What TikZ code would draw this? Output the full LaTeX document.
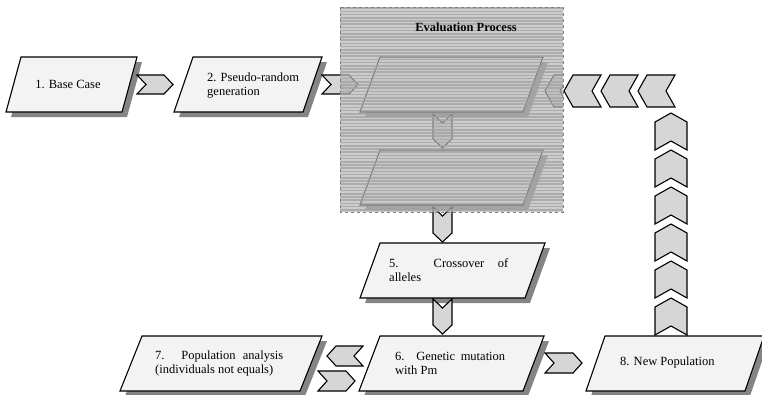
\documentclass[tikz,border=0pt]{standalone}
\usepackage{fontspec}
\setmainfont{Liberation Serif}
\definecolor{boxfill}{HTML}{F3F3F3}
\definecolor{chevfill}{HTML}{D6D6D6}
\definecolor{shadowc}{HTML}{858585}
\definecolor{ovbase}{HTML}{B4B4B4}
\definecolor{ovstripe}{HTML}{A2A2A2}
\newcommand\parabox[5]{%
  \fill[shadowc] ({#1+5},{#3+5}) -- ({#2+5},{#3+5}) -- ({#2-#5+5},{#3+#4+5}) -- ({#1-#5+5},{#3+#4+5}) -- cycle;
  \draw[boxline] (#1,#3) -- (#2,#3) -- ({#2-#5},{#3+#4}) -- ({#1-#5},{#3+#4}) -- cycle;}
\newcommand\chevR[4]{\draw[chev] (#1,#2) -- ({#1+#3-9},#2) -- ({#1+#3},{#2+#4/2}) -- ({#1+#3-9},{#2+#4}) -- (#1,{#2+#4}) -- ({#1+9},{#2+#4/2}) -- cycle;}
\newcommand\chevL[4]{\draw[chev] (#1,{#2+#4/2}) -- ({#1+9},#2) -- ({#1+#3},#2) -- ({#1+#3-9},{#2+#4/2}) -- ({#1+#3},{#2+#4}) -- ({#1+9},{#2+#4}) -- cycle;}
\newcommand\chevD[4]{\draw[chev] (#1,#2) -- ({#1+#3/2},{#2+9}) -- ({#1+#3},#2) -- ({#1+#3},{#2+#4-9}) -- ({#1+#3/2},{#2+#4}) -- (#1,{#2+#4-9}) -- cycle;}
\newcommand\chevU[4]{\draw[chev] (#1,{#2+9}) -- ({#1+#3/2},#2) -- ({#1+#3},{#2+9}) -- ({#1+#3},{#2+#4}) -- ({#1+#3/2},{#2+#4-9}) -- (#1,{#2+#4}) -- cycle;}
\begin{document}
\begin{tikzpicture}[x=1pt,y=-1pt,
  boxline/.style={draw=black, line width=1.1pt, fill=boxfill, line join=miter},
  chev/.style={draw=black, line width=1.1pt, fill=chevfill, line join=miter},
  txt/.style={inner sep=0pt, align=left, font=\fontsize{12.5}{14}\selectfont}]
\useasboundingbox (0,0) rectangle (762,394);
% first row and evaluation boxes
\parabox{21}{137}{57}{55}{15}
\parabox{193}{322}{57}{55}{19}
\parabox{380}{543}{57}{55}{20}
\parabox{380}{543}{150}{55}{20}
\coordinate (bA) at (451,84);
\coordinate (bB) at (451,177);
% connectors of the first row
\chevR{137}{75}{36}{19}
\chevR{322}{75}{36}{19}
\begin{scope}
  \clip (530,60) rectangle (563,120);
  \chevL{545}{75}{24}{32}
\end{scope}
\chevD{433}{114}{19}{34}
\chevD{433}{207}{19}{35}
% evaluation overlay
\fill[ovbase, opacity=0.68] (340,7) rectangle (563,212);
\foreach \yy in {8.2,11.4,...,211} \draw[ovstripe, line width=1.5pt, opacity=0.75] (340,\yy) -- (563,\yy);
\draw[gray, dashed, line width=0.6pt] (340,7) rectangle (563,212);
\node[font=\bfseries\fontsize{12.5}{14}\selectfont, inner sep=0pt] (evaltitle) at (466,27) {Evaluation Process};
% return path chevrons
\chevL{564}{75}{37}{32}
\chevL{601}{75}{37}{32}
\chevL{638}{75}{37}{32}
\foreach \t in {113,150,187,224,261,298} {\chevU{655}{\t}{32}{37}}
% lower boxes
\parabox{380}{545}{243}{55}{20}
\parabox{380}{544}{336}{55}{21}
\parabox{142}{322}{336}{55}{22}
\parabox{605}{764}{336}{55}{19}
% lower connectors
\chevD{433}{299}{19}{35}
\chevR{545}{353}{37}{20}
\chevL{327}{346}{36}{20}
\chevR{318}{371}{37}{20}
% texts
\node[txt] (b1) at (68,84) {1. Base Case};
\node[txt, anchor=west] (b2) at (207,86) {2. Pseudo-random\\generation};
\node[txt, anchor=west] (b5) at (389,270) {\makebox[119pt][s]{5. Crossover of}\\alleles};
\node[txt, anchor=west] (b6) at (395,363) {\makebox[110pt][s]{6. Genetic mutation}\\with Pm};
\node[txt, anchor=west] (b7) at (155,363) {\makebox[128pt][s]{7. Population analysis}\\(individuals not equals)};
\node[txt, anchor=west] (b8) at (620,362) {8. New Population};
\end{tikzpicture}
\end{document}
